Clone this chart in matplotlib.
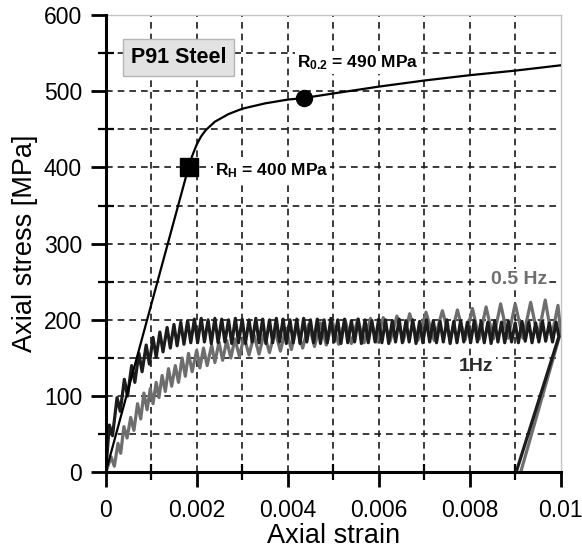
import numpy as np
import matplotlib
matplotlib.use('Agg')
import matplotlib.pyplot as plt

matplotlib.rcParams.update({'font.family': 'Liberation Sans',
                            'font.size': 15,
                            'mathtext.fontset': 'custom',
                            'mathtext.rm': 'Liberation Sans:bold',
                            'mathtext.bf': 'Liberation Sans:bold',
                            'mathtext.it': 'Liberation Sans:bold'})

### ---Data
# monotonic tensile curve
tens_strain = [0, 0.00182, 0.0019, 0.002, 0.0021, 0.0022, 0.0024, 0.0027, 0.003,
               0.0035, 0.004, 0.00435, 0.005, 0.006, 0.007, 0.008, 0.009, 0.01]
tens_stress = [0, 400, 415, 430, 441, 449, 460, 470, 477,
               484, 489, 491, 497, 506, 514, 521, 527, 534]

rh_strain, rh_stress = 0.00182, 400      # R_H
rp_strain, rp_stress = 0.00435, 491      # R_0.2

# 1 Hz cyclic test: peaks and valleys of each cycle
hz1_peak_strain = [0.00008, 0.00025, 0.00041, 0.00057, 0.00073, 0.00089, 0.00104, 0.00119, 0.00135, 0.0015,
                   0.00165, 0.0018,
                   0.00195, 0.0021, 0.00225, 0.0024, 0.00255, 0.0027, 0.00285, 0.003, 0.00315, 0.0033,
                   0.00345, 0.0036, 0.00375, 0.0039, 0.00405, 0.0042, 0.00435, 0.0045, 0.00465, 0.0048,
                   0.00495, 0.0051, 0.00525, 0.0054, 0.00555, 0.0057, 0.00585, 0.006, 0.00615, 0.0063,
                   0.00645, 0.0066, 0.00675, 0.0069, 0.00705, 0.0072, 0.00735, 0.0075, 0.00765, 0.0078,
                   0.00795, 0.0081, 0.00825, 0.0084, 0.00855, 0.0087, 0.00885, 0.009, 0.00915, 0.0093,
                   0.00945, 0.0096, 0.00975, 0.0099]
hz1_peak_stress = [62, 98, 122, 140, 156, 167, 177, 184, 190, 194,
                   197, 199,
                   201, 202, 200, 202, 201, 200, 202, 201, 200, 202,
                   201, 200, 202, 201, 200, 201, 202, 200, 201, 200,
                   202, 200, 201, 199, 201, 200, 199, 201, 200, 199,
                   201, 199, 200, 198, 200, 199, 198, 200, 198, 199,
                   197, 199, 198, 197, 199, 197, 198, 196, 198, 197,
                   196, 198, 196, 197]
hz1_valley_strain = [0.00015, 0.00032, 0.00048, 0.00064, 0.0008, 0.00096, 0.00111, 0.00126, 0.00142, 0.00157,
                     0.00172, 0.00187,
                     0.00202, 0.00217, 0.00232, 0.00247, 0.00262, 0.00277, 0.00292, 0.00307, 0.00322, 0.00337,
                     0.00352, 0.00367, 0.00382, 0.00397, 0.00412, 0.00427, 0.00442, 0.00457, 0.00472, 0.00487,
                     0.00502, 0.00517, 0.00532, 0.00547, 0.00562, 0.00577, 0.00592, 0.00607, 0.00622, 0.00637,
                     0.00652, 0.00667, 0.00682, 0.00697, 0.00712, 0.00727, 0.00742, 0.00757, 0.00772, 0.00787,
                     0.00802, 0.00817, 0.00832, 0.00847, 0.00862, 0.00877, 0.00892, 0.00907, 0.00922, 0.00937,
                     0.00952, 0.00967, 0.00982]
hz1_valley_stress = [48, 80, 100, 118, 132, 142, 151, 158, 163, 166,
                     168, 170,
                     170, 171, 169, 170, 171, 169, 170, 169, 171, 170,
                     169, 170, 171, 169, 170, 169, 171, 170, 169, 170,
                     171, 169, 170, 171, 169, 170, 171, 170, 169, 171,
                     170, 171, 169, 170, 171, 170, 171, 169, 170, 171,
                     170, 171, 170, 169, 171, 170, 171, 170, 172, 170,
                     171, 172, 171]
hz1_end_strain = [0.00996, 0.00902]      # last point + unloading
hz1_end_stress = [178, 0]

# 0.5 Hz cyclic test
hz05_peak_strain = [0.00012, 0.00027, 0.0004, 0.00055, 0.0007, 0.00084, 0.00098, 0.00111, 0.00124, 0.00138,
                    0.00153, 0.00168, 0.00182, 0.002, 0.00215, 0.00233, 0.00249, 0.00266, 0.00284, 0.00304,
                    0.00326, 0.00348, 0.00372, 0.00396, 0.0042, 0.00446, 0.00472, 0.00498, 0.00526, 0.00554,
                    0.00582, 0.0061, 0.0064, 0.00668, 0.00704, 0.0074, 0.00773, 0.00806, 0.00836, 0.00868,
                    0.009, 0.00934, 0.00966, 0.00994]
hz05_peak_stress = [20, 38, 60, 72, 90, 104, 110, 118, 127, 136,
                    140, 150, 156, 160, 163, 167, 171, 173, 175, 178,
                    180, 182, 186, 189, 191, 194, 196, 198, 200, 201,
                    202, 203, 205, 208, 210, 212, 213, 215, 217, 221,
                    221, 223, 226, 219]
hz05_valley_strain = [0.00019, 0.00033, 0.00047, 0.00062, 0.00077, 0.00091, 0.00104, 0.00117, 0.00131, 0.00145,
                      0.0016, 0.00175, 0.0019, 0.00207, 0.00223, 0.0024, 0.00257, 0.00275, 0.00294, 0.00315,
                      0.00337, 0.0036, 0.00384, 0.00408, 0.00433, 0.00459, 0.00485, 0.00512, 0.0054, 0.00568,
                      0.00596, 0.00625, 0.00654, 0.00686, 0.00722, 0.00757, 0.0079, 0.00821, 0.00852, 0.00884,
                      0.00917, 0.0095, 0.0098]
hz05_valley_stress = [8, 25, 45, 55, 70, 82, 90, 98, 106, 113,
                      118, 126, 132, 137, 140, 144, 147, 150, 152, 154,
                      155, 157, 159, 161, 163, 165, 167, 168, 169, 170,
                      171, 172, 172, 173, 173, 174, 174, 175, 175, 176,
                      176, 177, 178]
hz05_end_strain = [0.01, 0.00912]
hz05_end_stress = [184, 0]

x_ticks = [0, 0.002, 0.004, 0.006, 0.008, 0.01]
x_ticklabels = ['0', '0.002', '0.004', '0.006', '0.008', '0.01']
x_minor = [0.001, 0.003, 0.005, 0.007, 0.009]
y_ticks = [0, 100, 200, 300, 400, 500, 600]
y_minor = [50, 150, 250, 350, 450, 550]
grid_x = [0.001, 0.002, 0.003, 0.004, 0.005, 0.006, 0.007, 0.008, 0.009]
grid_y = [50, 100, 150, 200, 250, 300, 350, 400, 450, 500, 550]


def cycle_path(pk_e, pk_s, va_e, va_s, end_e, end_s):
	# walk valley -> peak -> valley ... starting from the origin
	e, s = [0.0], [0.0]
	for i in range(len(pk_e)):
		e.append(pk_e[i]); s.append(pk_s[i])
		if i < len(va_e):
			e.append(va_e[i]); s.append(va_s[i])
	return e + end_e, s + end_s


### ---- M A K E   P L O T -------------------
fig = plt.figure(figsize=(5.82, 5.51), dpi=100)
ax = fig.add_axes([0.1816, 0.1428, 0.7818, 0.83])

for gx in grid_x:
	ax.axvline(gx, color='#1a1a1a', lw=1.2, ls=(0, (4, 3)), zorder=1)
for gy in grid_y:
	ax.axhline(gy, color='#1a1a1a', lw=1.2, ls=(0, (4, 3)), zorder=1)

e05, s05 = cycle_path(hz05_peak_strain, hz05_peak_stress, hz05_valley_strain, hz05_valley_stress,
                      hz05_end_strain, hz05_end_stress)
ax.plot(e05, s05, color='#6e6e6e', lw=2.3, solid_joinstyle='round', zorder=3)

e1, s1 = cycle_path(hz1_peak_strain, hz1_peak_stress, hz1_valley_strain, hz1_valley_stress,
                    hz1_end_strain, hz1_end_stress)
ax.plot(e1, s1, color='#1c1c1c', lw=2.3, solid_joinstyle='round', zorder=4)

ax.plot(tens_strain, tens_stress, color='black', lw=1.6, zorder=5)
ax.plot(rh_strain, rh_stress, 's', color='black', ms=13, zorder=6)
ax.plot(rp_strain, rp_stress, 'o', color='black', ms=11.5, zorder=6)

white = dict(boxstyle='square,pad=0.12', fc='white', ec='none')
ax.text(0.0024, 396, r'R$_\mathregular{H}$ = 400 MPa', fontsize=12.5, fontweight='bold',
        va='center', ha='left', bbox=white, zorder=7)
ax.text(0.0042, 538, r'R$_\mathregular{0.2}$ = 490 MPa', fontsize=12.5, fontweight='bold',
        va='center', ha='left', bbox=white, zorder=7)
ax.text(0.0016, 544, 'P91 Steel', fontsize=15.5, fontweight='bold', ha='center', va='center',
        bbox=dict(boxstyle='square,pad=0.38', fc='#e2e2e2', ec='#b5b5b5', lw=1), zorder=7)
ax.text(0.00908, 253, '0.5 Hz', fontsize=14, fontweight='bold', color='#6e6e6e',
        ha='center', va='center', bbox=white, zorder=7)
ax.text(0.00814, 139, '1Hz', fontsize=14, fontweight='bold', color='#2a2a2a',
        ha='center', va='center', bbox=white, zorder=7)

ax.set_xlim(0, 0.01)
ax.set_ylim(0, 600)
ax.set_xticks(x_ticks)
ax.set_xticklabels(x_ticklabels)
ax.set_xticks(x_minor, minor=True)
ax.set_yticks(y_ticks)
ax.set_yticks(y_minor, minor=True)
ax.tick_params(which='major', direction='out', length=11, width=2, labelsize=16.5)
ax.tick_params(axis='x', which='major', pad=8)
ax.tick_params(axis='y', which='major', pad=6)
ax.tick_params(which='minor', direction='inout', length=12, width=1.6)

for side in ['left', 'bottom']:
	ax.spines[side].set_linewidth(2.2)
	ax.spines[side].set_zorder(8)
for side in ['top', 'right']:
	ax.spines[side].set_color('#c4c4c4')
	ax.spines[side].set_linewidth(1)

ax.set_xlabel('Axial strain', fontsize=19.5, labelpad=1)
ax.set_ylabel('Axial stress [MPa]', fontsize=19.5, labelpad=4)

plt.savefig('out.png', dpi=100)
